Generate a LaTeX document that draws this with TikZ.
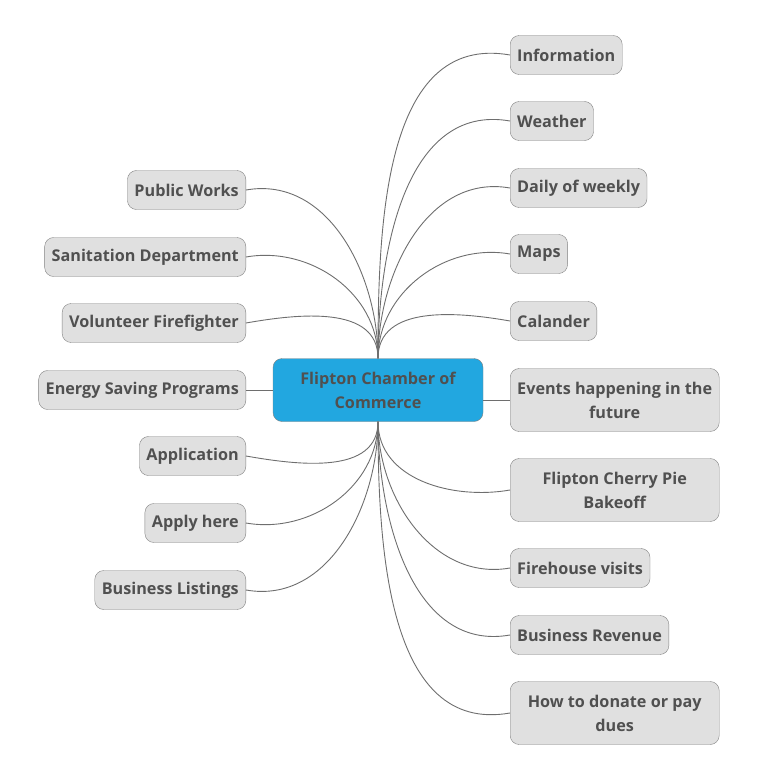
\documentclass[tikz,border=0pt]{standalone}
\usepackage{fontspec}
\setmainfont{Open Sans}
\usetikzlibrary{positioning}
\definecolor{rootblue}{HTML}{22A7E0}
\definecolor{leafgray}{HTML}{E0E0E0}
\definecolor{boxline}{HTML}{808080}
\definecolor{textgray}{HTML}{505050}
\definecolor{linegray}{HTML}{6E6E6E}

\begin{document}
\begin{tikzpicture}[x=1pt,y=1pt]
  \tikzstyle{sujet}=[draw=boxline, fill=leafgray, rounded corners=9pt, minimum height=39pt, inner xsep=7pt, align=center, text=textgray, font=\bfseries\fontsize{16.2}{24}\selectfont];
  \tikzstyle{double}=[sujet, minimum width=209pt, minimum height=63pt];
  \tikzstyle{branche}=[draw=linegray, line width=0.9pt];

  \useasboundingbox (0,0) rectangle (757,-784);

  \node[sujet, fill=rootblue, minimum width=210pt, minimum height=63pt] (root) at (378,-390) {Flipton Chamber of\\Commerce};

  % right side
  \node[sujet, anchor=west] (info) at (510,-55) {Information};
  \node[sujet, anchor=west] (weather) at (510,-121) {Weather};
  \node[sujet, anchor=west] (daily) at (510,-188) {Daily of weekly};
  \node[sujet, anchor=west] (maps) at (510,-254) {Maps};
  \node[sujet, anchor=west] (calander) at (510,-321) {Calander};
  \node[double, anchor=west] (events) at (510,-400) {Events happening in the\\future};
  \node[double, anchor=west] (cherry) at (510,-490) {Flipton Cherry Pie\\Bakeoff};
  \node[sujet, anchor=west] (firehouse) at (510,-568) {Firehouse visits};
  \node[sujet, anchor=west] (revenue) at (510,-635) {Business Revenue};
  \node[double, anchor=west] (donate) at (510,-713) {How to donate or pay\\dues};

  % left side
  \node[sujet, anchor=east] (public) at (246,-190) {Public Works};
  \node[sujet, anchor=east] (sanitation) at (246,-257) {Sanitation Department};
  \node[sujet, anchor=east] (volunteer) at (246,-323) {Volunteer Firefighter};
  \node[sujet, anchor=east] (energy) at (246,-390) {Energy Saving Programs};
  \node[sujet, anchor=east] (application) at (246,-456) {Application};
  \node[sujet, anchor=east] (applyhere) at (246,-523) {Apply here};
  \node[sujet, anchor=east] (listings) at (246,-590) {Business Listings};

  \foreach \n in {info, weather, daily, maps, calander}
    \draw[branche] (root.north) to[out=90, in=170] (\n.west);
  \foreach \n in {cherry, firehouse, revenue, donate}
    \draw[branche] (root.south) to[out=-90, in=190] (\n.west);
  \foreach \n in {public, sanitation, volunteer}
    \draw[branche] (root.north) to[out=90, in=10] (\n.east);
  \foreach \n in {application, applyhere, listings}
    \draw[branche] (root.south) to[out=-90, in=-10] (\n.east);
  \draw[branche] (root.east |- events.west) -- (events.west);
  \draw[branche] (root.west) -- (energy.east);
\end{tikzpicture}
\end{document}
